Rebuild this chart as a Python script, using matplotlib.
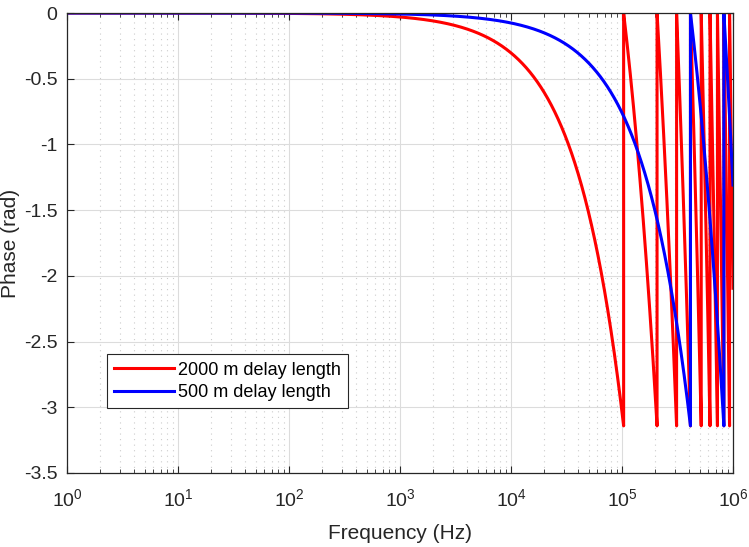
import numpy as np
import matplotlib
matplotlib.use("Agg")
import matplotlib.pyplot as plt

plt.rcParams['font.family'] = ['Liberation Sans', 'DejaVu Sans']
plt.rcParams['mathtext.fontset'] = 'custom'
plt.rcParams['mathtext.rm'] = 'Liberation Sans'
plt.rcParams['mathtext.it'] = 'Liberation Sans'

# delay lines (fibre, group index ~1.45)
delay_lengths = [2000, 500]          # m
labels = ['2000 m delay length', '500 m delay length']
colors = ['#ff0000', '#0000ff']
n_group = 1.45
c = 3e8

freq = np.logspace(0, 6, 400000)

fig = plt.figure(figsize=(7.49, 5.47), dpi=100)
ax = fig.add_axes([67/749, 1 - 473/547, 666/749, 460/547])

for L, lab, col in zip(delay_lengths, labels, colors):
    tau = L * n_group / c
    phase = -np.pi * np.mod(freq * tau, 1.0)
    ax.plot(freq, phase, color=col, lw=2.2, label=lab)

ax.set_xscale('log')
ax.set_xlim(1, 1e6)
ax.set_ylim(-3.5, 0)
ax.set_yticks(np.arange(-3.5, 0.01, 0.5))
ax.set_yticklabels(['-3.5', '-3', '-2.5', '-2', '-1.5', '-1', '-0.5', '0'])

ax.grid(True, which='major', color='#dcdcdc', lw=0.8)
ax.grid(True, which='minor', axis='x', color='#cccccc', lw=0.8, ls=(0, (1, 4)))
ax.set_axisbelow(True)

ax.tick_params(which='both', direction='in', top=True, right=True,
               labelsize=14, colors='#262626')
ax.tick_params(which='major', length=5)
ax.tick_params(which='minor', length=3)
ax.tick_params(axis='y', pad=7)
ax.tick_params(axis='x', pad=11)
for s in ax.spines.values():
    s.set_color('#262626')
    s.set_linewidth(0.9)

ax.set_xlabel('Frequency (Hz)', fontsize=15, color='#262626', labelpad=10)
ax.set_ylabel('Phase (rad)', fontsize=15, color='#262626')
ax.yaxis.set_label_coords(-0.071, 0.5)

leg = ax.legend(loc='lower left', bbox_to_anchor=(0.06, 0.141), fontsize=13,
                fancybox=False, edgecolor='#262626', framealpha=1,
                handlelength=3.3, handletextpad=0.25, borderpad=0.4,
                labelspacing=0.3, borderaxespad=0)
leg.get_frame().set_linewidth(0.8)

fig.savefig('out.png', dpi=100)
